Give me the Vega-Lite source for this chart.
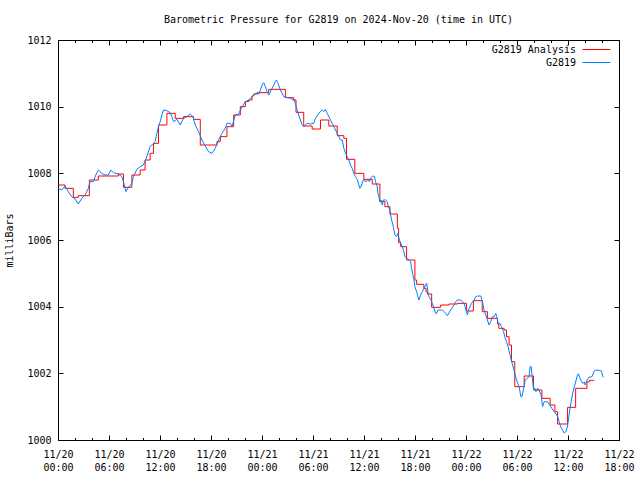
{
  "$schema": "https://vega.github.io/schema/vega-lite/v6.json",
  "width": 561,
  "height": 400,
  "autosize": {"type": "none"},
  "padding": {"left": 58, "top": 40, "right": 21, "bottom": 40},
  "background": "white",
  "title": {"text": "Barometric Pressure for G2819 on 2024-Nov-20 (time in UTC)", "anchor": "middle", "offset": 10},
  "datasets": {
    "analysis": [
      {"h": 0, "mb": 1007.65}, {"h": 0.83, "mb": 1007.55}, {"h": 1.80, "mb": 1007.28}, {"h": 2.39, "mb": 1007.33},
      {"h": 3.69, "mb": 1007.80}, {"h": 4.75, "mb": 1007.92}, {"h": 7.11, "mb": 1007.98}, {"h": 7.70, "mb": 1007.58},
      {"h": 8.69, "mb": 1007.95}, {"h": 9.66, "mb": 1008.10}, {"h": 10.25, "mb": 1008.40}, {"h": 10.84, "mb": 1008.60},
      {"h": 11.23, "mb": 1008.90}, {"h": 11.82, "mb": 1009.45}, {"h": 12.81, "mb": 1009.80}, {"h": 13.79, "mb": 1009.65},
      {"h": 14.77, "mb": 1009.70}, {"h": 15.95, "mb": 1009.62}, {"h": 16.74, "mb": 1008.85}, {"h": 18.70, "mb": 1008.95},
      {"h": 19.09, "mb": 1009.10}, {"h": 19.88, "mb": 1009.40}, {"h": 20.66, "mb": 1009.75}, {"h": 21.45, "mb": 1010.00},
      {"h": 22.04, "mb": 1010.15}, {"h": 22.43, "mb": 1010.20}, {"h": 22.83, "mb": 1010.32}, {"h": 23.02, "mb": 1010.38},
      {"h": 23.42, "mb": 1010.42}, {"h": 24.79, "mb": 1010.52}, {"h": 26.75, "mb": 1010.27}, {"h": 27.73, "mb": 1010.20},
      {"h": 28.00, "mb": 1009.83}, {"h": 28.91, "mb": 1009.42}, {"h": 29.90, "mb": 1009.33}, {"h": 30.88, "mb": 1009.60},
      {"h": 31.86, "mb": 1009.42}, {"h": 32.85, "mb": 1009.13}, {"h": 33.63, "mb": 1009.05}, {"h": 33.94, "mb": 1008.42},
      {"h": 34.92, "mb": 1008.00}, {"h": 35.98, "mb": 1007.82}, {"h": 36.97, "mb": 1007.68}, {"h": 37.87, "mb": 1007.15},
      {"h": 38.46, "mb": 1007.00}, {"h": 39.05, "mb": 1006.78}, {"h": 39.92, "mb": 1006.35}, {"h": 40.07, "mb": 1005.92},
      {"h": 40.31, "mb": 1005.80}, {"h": 41.01, "mb": 1005.40}, {"h": 41.99, "mb": 1004.80}, {"h": 42.19, "mb": 1004.67},
      {"h": 43.04, "mb": 1004.55}, {"h": 43.30, "mb": 1004.45}, {"h": 43.45, "mb": 1004.38}, {"h": 43.96, "mb": 1003.98},
      {"h": 45.02, "mb": 1004.05}, {"h": 46.00, "mb": 1004.08}, {"h": 46.99, "mb": 1004.10}, {"h": 48.05, "mb": 1003.87},
      {"h": 48.87, "mb": 1004.18}, {"h": 49.91, "mb": 1003.85}, {"h": 50.52, "mb": 1003.65}, {"h": 51.70, "mb": 1003.48},
      {"h": 51.86, "mb": 1003.35}, {"h": 52.48, "mb": 1003.30}, {"h": 52.76, "mb": 1003.10}, {"h": 53.07, "mb": 1002.85},
      {"h": 53.35, "mb": 1002.35}, {"h": 53.74, "mb": 1001.60}, {"h": 54.84, "mb": 1001.92}, {"h": 55.95, "mb": 1001.50},
      {"h": 56.93, "mb": 1001.25}, {"h": 57.90, "mb": 1001.05}, {"h": 58.46, "mb": 1000.85}, {"h": 58.77, "mb": 1000.48},
      {"h": 59.95, "mb": 1000.98}, {"h": 60.90, "mb": 1001.55}, {"h": 62.23, "mb": 1001.74}, {"h": 62.50, "mb": 1001.79},
      {"h": 63.09, "mb": 1001.79}
    ],
    "obs": [
      {"h": 0.04, "mb": 1007.55}, {"h": 0.44, "mb": 1007.50}, {"h": 0.83, "mb": 1007.62}, {"h": 1.21, "mb": 1007.45},
      {"h": 1.61, "mb": 1007.30}, {"h": 2.00, "mb": 1007.23}, {"h": 2.39, "mb": 1007.08}, {"h": 2.79, "mb": 1007.25},
      {"h": 3.18, "mb": 1007.35}, {"h": 3.57, "mb": 1007.55}, {"h": 3.77, "mb": 1007.75}, {"h": 4.16, "mb": 1007.75},
      {"h": 4.56, "mb": 1008.02}, {"h": 4.75, "mb": 1008.10}, {"h": 5.15, "mb": 1008.00}, {"h": 5.54, "mb": 1007.95},
      {"h": 5.93, "mb": 1007.95}, {"h": 6.21, "mb": 1008.10}, {"h": 6.52, "mb": 1008.02}, {"h": 7.11, "mb": 1007.98},
      {"h": 7.51, "mb": 1007.90}, {"h": 7.70, "mb": 1007.75}, {"h": 7.90, "mb": 1007.55}, {"h": 7.98, "mb": 1007.45},
      {"h": 8.29, "mb": 1007.58}, {"h": 8.69, "mb": 1007.70}, {"h": 8.87, "mb": 1007.90}, {"h": 9.28, "mb": 1008.12},
      {"h": 9.66, "mb": 1008.20}, {"h": 10.05, "mb": 1008.25}, {"h": 10.45, "mb": 1008.50}, {"h": 10.84, "mb": 1008.80},
      {"h": 11.23, "mb": 1008.90}, {"h": 11.43, "mb": 1008.95}, {"h": 11.63, "mb": 1009.20}, {"h": 11.82, "mb": 1009.40},
      {"h": 12.02, "mb": 1009.55}, {"h": 12.22, "mb": 1009.75}, {"h": 12.41, "mb": 1009.90}, {"h": 12.81, "mb": 1009.88},
      {"h": 13.20, "mb": 1009.82}, {"h": 13.40, "mb": 1009.70}, {"h": 13.59, "mb": 1009.55}, {"h": 13.79, "mb": 1009.58},
      {"h": 13.99, "mb": 1009.62}, {"h": 14.38, "mb": 1009.45}, {"h": 14.77, "mb": 1009.65}, {"h": 15.17, "mb": 1009.70},
      {"h": 15.56, "mb": 1009.78}, {"h": 15.88, "mb": 1009.70}, {"h": 16.15, "mb": 1009.45}, {"h": 16.54, "mb": 1009.25},
      {"h": 16.94, "mb": 1009.00}, {"h": 17.33, "mb": 1008.82}, {"h": 17.71, "mb": 1008.65}, {"h": 18.11, "mb": 1008.60},
      {"h": 18.50, "mb": 1008.75}, {"h": 18.89, "mb": 1009.00}, {"h": 19.29, "mb": 1009.20}, {"h": 19.68, "mb": 1009.35},
      {"h": 19.88, "mb": 1009.50}, {"h": 20.27, "mb": 1009.50}, {"h": 20.47, "mb": 1009.40}, {"h": 20.86, "mb": 1009.75},
      {"h": 21.25, "mb": 1009.78}, {"h": 21.65, "mb": 1010.00}, {"h": 22.04, "mb": 1010.15}, {"h": 22.43, "mb": 1010.20},
      {"h": 22.83, "mb": 1010.30}, {"h": 23.22, "mb": 1010.40}, {"h": 23.61, "mb": 1010.38}, {"h": 23.81, "mb": 1010.50},
      {"h": 24.01, "mb": 1010.65}, {"h": 24.20, "mb": 1010.72}, {"h": 24.40, "mb": 1010.60}, {"h": 24.60, "mb": 1010.45},
      {"h": 24.79, "mb": 1010.35}, {"h": 25.19, "mb": 1010.55}, {"h": 25.58, "mb": 1010.75}, {"h": 25.69, "mb": 1010.80},
      {"h": 25.85, "mb": 1010.72}, {"h": 26.16, "mb": 1010.50}, {"h": 26.55, "mb": 1010.30}, {"h": 26.95, "mb": 1010.28},
      {"h": 27.34, "mb": 1010.25}, {"h": 27.73, "mb": 1010.20}, {"h": 27.93, "mb": 1010.10}, {"h": 28.13, "mb": 1009.90},
      {"h": 28.32, "mb": 1009.75}, {"h": 28.52, "mb": 1009.60}, {"h": 28.72, "mb": 1009.45}, {"h": 28.91, "mb": 1009.40},
      {"h": 29.31, "mb": 1009.50}, {"h": 29.70, "mb": 1009.48}, {"h": 30.09, "mb": 1009.50}, {"h": 30.29, "mb": 1009.65},
      {"h": 30.68, "mb": 1009.80}, {"h": 31.08, "mb": 1009.90}, {"h": 31.27, "mb": 1009.85}, {"h": 31.47, "mb": 1009.92},
      {"h": 31.67, "mb": 1009.80}, {"h": 32.06, "mb": 1009.60}, {"h": 32.45, "mb": 1009.40}, {"h": 32.85, "mb": 1009.20},
      {"h": 33.24, "mb": 1009.00}, {"h": 33.44, "mb": 1009.00}, {"h": 33.63, "mb": 1008.75}, {"h": 33.83, "mb": 1008.60},
      {"h": 34.03, "mb": 1008.50}, {"h": 34.21, "mb": 1008.40}, {"h": 34.41, "mb": 1008.25}, {"h": 34.61, "mb": 1008.15},
      {"h": 34.80, "mb": 1008.00}, {"h": 35.00, "mb": 1007.90}, {"h": 35.20, "mb": 1007.82}, {"h": 35.39, "mb": 1007.65},
      {"h": 35.51, "mb": 1007.55}, {"h": 35.68, "mb": 1007.62}, {"h": 35.91, "mb": 1007.80}, {"h": 36.27, "mb": 1007.75},
      {"h": 36.45, "mb": 1007.82}, {"h": 36.65, "mb": 1007.75}, {"h": 36.85, "mb": 1007.88}, {"h": 37.04, "mb": 1007.92},
      {"h": 37.24, "mb": 1007.90}, {"h": 37.36, "mb": 1007.75}, {"h": 37.56, "mb": 1007.60}, {"h": 37.63, "mb": 1007.40},
      {"h": 37.75, "mb": 1007.30}, {"h": 37.87, "mb": 1007.15}, {"h": 38.03, "mb": 1007.20}, {"h": 38.15, "mb": 1007.05},
      {"h": 38.27, "mb": 1007.20}, {"h": 38.54, "mb": 1007.20}, {"h": 38.74, "mb": 1007.15}, {"h": 38.86, "mb": 1007.00},
      {"h": 39.05, "mb": 1006.90}, {"h": 39.13, "mb": 1006.75}, {"h": 39.25, "mb": 1006.60}, {"h": 39.40, "mb": 1006.45},
      {"h": 39.52, "mb": 1006.30}, {"h": 39.64, "mb": 1006.15}, {"h": 39.84, "mb": 1006.10}, {"h": 39.99, "mb": 1006.20},
      {"h": 40.11, "mb": 1006.05}, {"h": 40.31, "mb": 1005.90}, {"h": 40.51, "mb": 1005.80}, {"h": 40.70, "mb": 1005.65},
      {"h": 40.81, "mb": 1005.50}, {"h": 41.01, "mb": 1005.45}, {"h": 41.29, "mb": 1005.40}, {"h": 41.49, "mb": 1005.35},
      {"h": 41.60, "mb": 1005.15}, {"h": 41.72, "mb": 1005.00}, {"h": 41.88, "mb": 1004.80}, {"h": 41.99, "mb": 1004.60},
      {"h": 42.19, "mb": 1004.45}, {"h": 42.35, "mb": 1004.30}, {"h": 42.46, "mb": 1004.20}, {"h": 42.66, "mb": 1004.35},
      {"h": 42.86, "mb": 1004.45}, {"h": 43.05, "mb": 1004.55}, {"h": 43.25, "mb": 1004.65}, {"h": 43.37, "mb": 1004.70},
      {"h": 43.52, "mb": 1004.45}, {"h": 43.64, "mb": 1004.30}, {"h": 43.84, "mb": 1004.22}, {"h": 44.04, "mb": 1004.10},
      {"h": 44.23, "mb": 1003.96}, {"h": 44.43, "mb": 1003.80}, {"h": 44.55, "mb": 1003.80}, {"h": 44.70, "mb": 1003.90},
      {"h": 44.82, "mb": 1003.90}, {"h": 45.22, "mb": 1003.90}, {"h": 45.61, "mb": 1003.80}, {"h": 45.81, "mb": 1003.73},
      {"h": 46.20, "mb": 1003.90}, {"h": 46.59, "mb": 1004.05}, {"h": 46.79, "mb": 1004.15}, {"h": 46.99, "mb": 1004.20},
      {"h": 47.38, "mb": 1004.20}, {"h": 47.77, "mb": 1004.10}, {"h": 47.89, "mb": 1004.00}, {"h": 48.05, "mb": 1003.85},
      {"h": 48.17, "mb": 1003.75}, {"h": 48.29, "mb": 1003.90}, {"h": 48.64, "mb": 1004.10}, {"h": 48.95, "mb": 1004.20},
      {"h": 49.15, "mb": 1004.30}, {"h": 49.35, "mb": 1004.32}, {"h": 49.74, "mb": 1004.32}, {"h": 49.85, "mb": 1004.22},
      {"h": 50.01, "mb": 1004.05}, {"h": 50.12, "mb": 1003.90}, {"h": 50.32, "mb": 1003.75}, {"h": 50.52, "mb": 1003.60},
      {"h": 50.71, "mb": 1003.45}, {"h": 50.91, "mb": 1003.55}, {"h": 51.11, "mb": 1003.70}, {"h": 51.31, "mb": 1003.70},
      {"h": 51.50, "mb": 1003.80}, {"h": 51.62, "mb": 1003.70}, {"h": 51.78, "mb": 1003.50}, {"h": 51.98, "mb": 1003.50},
      {"h": 52.18, "mb": 1003.40}, {"h": 52.41, "mb": 1003.25}, {"h": 52.56, "mb": 1003.10}, {"h": 52.76, "mb": 1002.95},
      {"h": 52.95, "mb": 1002.80}, {"h": 53.27, "mb": 1002.45}, {"h": 53.59, "mb": 1002.15}, {"h": 53.94, "mb": 1001.80},
      {"h": 54.25, "mb": 1001.60}, {"h": 54.45, "mb": 1001.30}, {"h": 54.57, "mb": 1001.30}, {"h": 54.84, "mb": 1001.60},
      {"h": 54.96, "mb": 1001.80}, {"h": 55.24, "mb": 1001.86}, {"h": 55.43, "mb": 1001.90}, {"h": 55.55, "mb": 1002.20},
      {"h": 55.67, "mb": 1002.20}, {"h": 55.83, "mb": 1001.80}, {"h": 55.95, "mb": 1001.50}, {"h": 56.10, "mb": 1001.55},
      {"h": 56.22, "mb": 1001.45}, {"h": 56.42, "mb": 1001.56}, {"h": 56.81, "mb": 1001.38}, {"h": 57.01, "mb": 1001.00},
      {"h": 57.20, "mb": 1001.15}, {"h": 57.60, "mb": 1001.14}, {"h": 57.99, "mb": 1000.99}, {"h": 58.38, "mb": 1000.85},
      {"h": 58.77, "mb": 1000.72}, {"h": 58.96, "mb": 1000.55}, {"h": 59.16, "mb": 1000.39}, {"h": 59.36, "mb": 1000.30},
      {"h": 59.55, "mb": 1000.21}, {"h": 59.75, "mb": 1000.25}, {"h": 59.95, "mb": 1000.42}, {"h": 60.14, "mb": 1000.78},
      {"h": 60.34, "mb": 1001.10}, {"h": 60.54, "mb": 1001.38}, {"h": 60.73, "mb": 1001.59}, {"h": 60.93, "mb": 1001.77},
      {"h": 61.13, "mb": 1001.97}, {"h": 61.25, "mb": 1001.98}, {"h": 61.44, "mb": 1001.83}, {"h": 61.73, "mb": 1001.70},
      {"h": 61.92, "mb": 1001.74}, {"h": 62.03, "mb": 1001.65}, {"h": 62.23, "mb": 1001.80}, {"h": 62.46, "mb": 1001.88},
      {"h": 62.82, "mb": 1001.90}, {"h": 63.09, "mb": 1002.07}, {"h": 63.29, "mb": 1002.10}, {"h": 63.68, "mb": 1002.09},
      {"h": 63.94, "mb": 1002.07}, {"h": 64.08, "mb": 1001.92}, {"h": 64.20, "mb": 1001.88}
    ]
  },
  "layer": [
    {
      "data": {"name": "analysis"},
      "mark": {"type": "line", "interpolate": "step-after", "strokeWidth": 1},
      "encoding": {
        "x": {
          "field": "h", "type": "quantitative",
          "scale": {"domain": [0, 66], "nice": false, "zero": false},
          "axis": {
            "orient": "bottom", "title": null,
            "values": [0, 2, 4, 6, 8, 10, 12, 14, 16, 18, 20, 22, 24, 26, 28, 30, 32, 34, 36, 38, 40, 42, 44, 46, 48, 50, 52, 54, 56, 58, 60, 62, 64, 66],
            "tickSize": {"condition": {"test": "datum.value % 6 == 0", "value": -5}, "value": -2.5},
            "labelExpr": "datum.value % 6 == 0 ? ['11/' + (20 + floor(datum.value / 24)), (datum.value % 24 < 10 ? '0' : '') + (datum.value % 24) + ':00'] : ''",
            "labelPadding": 14, "labelLineHeight": 13, "labelAlign": "center", "labelBaseline": "top",
            "labelFlush": false, "labelOverlap": false
          }
        },
        "y": {
          "field": "mb", "type": "quantitative",
          "scale": {"domain": [1000, 1012], "nice": false, "zero": false},
          "axis": {
            "orient": "left", "title": "milliBars",
            "values": [1000, 1002, 1004, 1006, 1008, 1010, 1012],
            "format": "d", "tickSize": -5, "labelPadding": 12, "titlePadding": 12
          }
        },
        "color": {
          "datum": "G2819 Analysis", "type": "nominal",
          "scale": {"domain": ["G2819 Analysis", "G2819"], "range": ["#ff0000", "#0080ff"]},
          "legend": {
            "title": null, "orient": "none", "legendX": 524, "legendY": 2, "symbolType": "M-1,0H3",
            "symbolSize": 196, "symbolStrokeWidth": 1, "labelAlign": "right", "labelOffset": -21,
            "rowPadding": 0, "labelFontSize": 10, "labelFont": "DejaVu Sans Mono", "labelColor": "#000"
          }
        }
      }
    },
    {
      "data": {"name": "obs"},
      "mark": {"type": "line", "strokeWidth": 1},
      "encoding": {
        "x": {
          "field": "h", "type": "quantitative",
          "axis": {
            "orient": "top", "title": null, "labels": false,
            "values": [0, 2, 4, 6, 8, 10, 12, 14, 16, 18, 20, 22, 24, 26, 28, 30, 32, 34, 36, 38, 40, 42, 44, 46, 48, 50, 52, 54, 56, 58, 60, 62, 64, 66],
            "tickSize": {"condition": {"test": "datum.value % 6 == 0", "value": -5}, "value": -2.5}
          }
        },
        "y": {
          "field": "mb", "type": "quantitative",
          "axis": {
            "orient": "right", "title": null, "labels": false,
            "values": [1000, 1002, 1004, 1006, 1008, 1010, 1012], "tickSize": -5
          }
        },
        "color": {"datum": "G2819", "type": "nominal"}
      }
    }
  ],
  "resolve": {"axis": {"x": "independent", "y": "independent"}},
  "config": {
    "font": "DejaVu Sans Mono",
    "view": {"stroke": "#000", "strokeWidth": 1},
    "axis": {
      "domain": false, "grid": false, "tickColor": "#000", "tickWidth": 1,
      "labelColor": "#000", "labelFont": "DejaVu Sans Mono", "labelFontSize": 10,
      "titleFont": "DejaVu Sans Mono", "titleFontSize": 10, "titleFontWeight": "normal", "titleColor": "#000"
    },
    "title": {"font": "DejaVu Sans Mono", "fontSize": 10, "fontWeight": "normal", "color": "#000"}
  }
}
